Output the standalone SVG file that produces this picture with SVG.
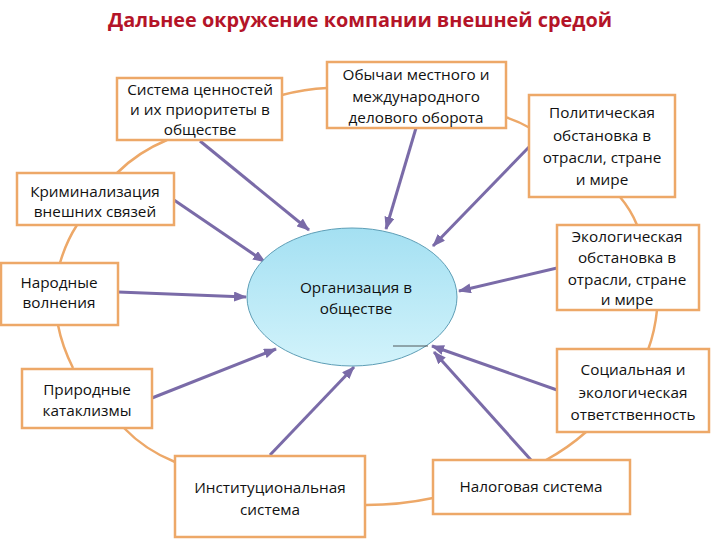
<svg xmlns="http://www.w3.org/2000/svg" width="720" height="540" viewBox="0 0 720 540">
<style>
.box{fill:#fff;stroke:#EDA868;stroke-width:2.5}
.t{font-family:"Open Sans","Noto Sans","Liberation Sans",sans-serif;font-size:15.3px;fill:#111;text-anchor:middle}
.ring{fill:none;stroke:#EDA868;stroke-width:2.5}
.arr{fill:none;stroke:#7A6BA8;stroke-width:3;marker-end:url(#ah)}
</style>
<defs>
<marker id="ah" markerUnits="userSpaceOnUse" markerWidth="13" markerHeight="10" viewBox="0 0 13 10" refX="12" refY="5" orient="auto">
<path d="M0,0 L13,5 L0,10 z" fill="#7A6BA8"/>
</marker>
<linearGradient id="eg" x1="0" y1="0" x2="0" y2="1">
<stop offset="0" stop-color="#A4E0F2"/>
<stop offset="1" stop-color="#D2F3FB"/>
</linearGradient>
</defs>
<rect width="720" height="540" fill="#fff"/>
<text x="360" y="27" font-family="'Open Sans','Liberation Sans',sans-serif" font-size="19" font-weight="bold" fill="#B41428" text-anchor="middle" textLength="504" lengthAdjust="spacingAndGlyphs">Дальнее окружение компании внешней средой</text>

<g id="ring">
<path class="ring" d="M167,140 Q138,152 117,173"/>
<path class="ring" d="M282,95 Q305,89 327,88"/>
<path class="ring" d="M505,117 Q518,121 530,128"/>
<path class="ring" d="M620,197 Q631,210 637,225"/>
<path class="ring" d="M657,310 Q655,331 648,350"/>
<path class="ring" d="M586,432 Q568,448 546,460"/>
<path class="ring" d="M433,498 Q400,505 366,505"/>
<path class="ring" d="M175,462 Q145,450 124,428"/>
<path class="ring" d="M73,368 Q62,346 58,325"/>
<path class="ring" d="M60,263 Q66,242 77,225"/>
</g>

<g id="connectors">
<path class="arr" d="M200,141 L309,230"/>
<path class="arr" d="M416,128 L386,229"/>
<path class="arr" d="M529,147 L433,246"/>
<path class="arr" d="M557,268 L459,291"/>
<path class="arr" d="M557,390 L432,346"/>
<path class="arr" d="M531,460 L434,352"/>
<path class="arr" d="M270,455 L354,367"/>
<path class="arr" d="M152,398 L276,349"/>
<path class="arr" d="M118,292 L246,297"/>
<path class="arr" d="M174,200 L265,262"/>
</g>

<g id="center">
<ellipse cx="352" cy="297" rx="105" ry="69" fill="url(#eg)" stroke="#5E9EB6" stroke-width="1"/>
<line x1="393" y1="346" x2="428" y2="346" stroke="#333" stroke-width="0.8"/>
<text class="t" x="356" y="293">Организация в</text>
<text class="t" x="356" y="314">обществе</text>
</g>

<g id="sys">
<rect class="box" x="117" y="78" width="165" height="62"/>
<text class="t" x="200" y="95">Система ценностей</text>
<text class="t" x="200" y="115">и их приоритеты в</text>
<text class="t" x="200" y="135">обществе</text>
</g>
<g id="obych">
<rect class="box" x="327" y="62" width="179" height="66"/>
<text class="t" x="416" y="80">Обычаи местного и</text>
<text class="t" x="416" y="102">международного</text>
<text class="t" x="416" y="123">делового оборота</text>
</g>
<g id="polit">
<rect class="box" x="529" y="95" width="146" height="102"/>
<text class="t" x="602" y="118">Политическая</text>
<text class="t" x="602" y="141">обстановка в</text>
<text class="t" x="602" y="163">отрасли, стране</text>
<text class="t" x="602" y="185">и мире</text>
</g>
<g id="ekol">
<rect class="box" x="557" y="225" width="142" height="85"/>
<text class="t" x="627" y="242">Экологическая</text>
<text class="t" x="627" y="263">обстановка в</text>
<text class="t" x="627" y="285">отрасли, стране</text>
<text class="t" x="627" y="305">и мире</text>
</g>
<g id="krim">
<rect class="box" x="17" y="173" width="157" height="52"/>
<text class="t" x="95" y="197">Криминализация</text>
<text class="t" x="95" y="217">внешних связей</text>
</g>
<g id="narod">
<rect class="box" x="1" y="263" width="117" height="62"/>
<text class="t" x="59" y="288">Народные</text>
<text class="t" x="59" y="308">волнения</text>
</g>
<g id="prir">
<rect class="box" x="22" y="369" width="130" height="59"/>
<text class="t" x="87" y="395">Природные</text>
<text class="t" x="87" y="416">катаклизмы</text>
</g>
<g id="inst">
<rect class="box" x="175" y="456" width="190" height="81"/>
<text class="t" x="270" y="493">Институциональная</text>
<text class="t" x="270" y="515">система</text>
</g>
<g id="nalog">
<rect class="box" x="433" y="460" width="197" height="54"/>
<text class="t" x="531" y="492">Налоговая система</text>
</g>
<g id="soc">
<rect class="box" x="557" y="349" width="152" height="83"/>
<text class="t" x="633" y="375">Социальная и</text>
<text class="t" x="633" y="398">экологическая</text>
<text class="t" x="633" y="420">ответственность</text>
</g>
</svg>
